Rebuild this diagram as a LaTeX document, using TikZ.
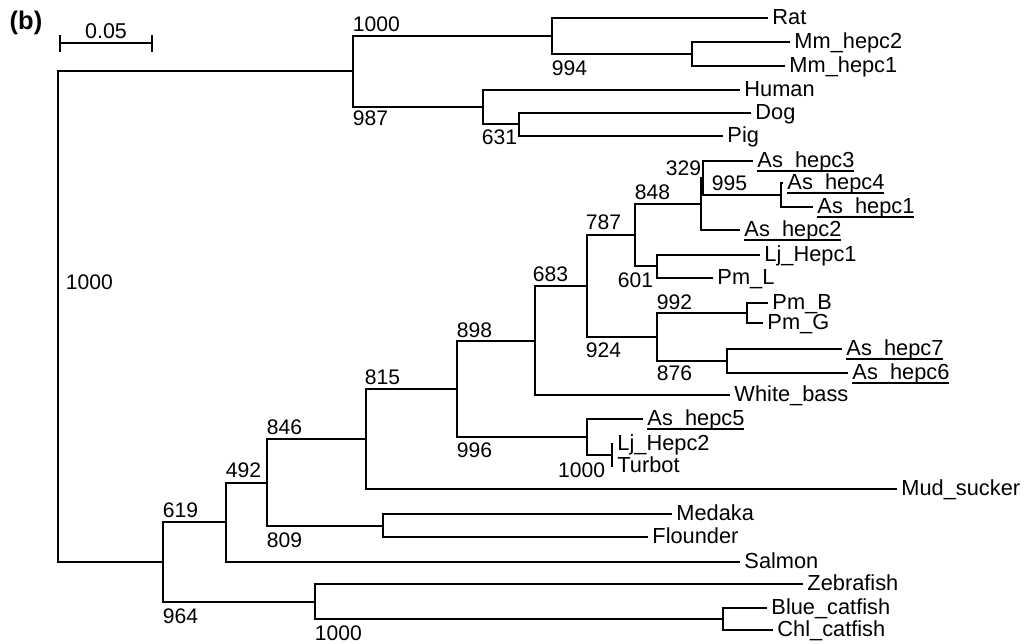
\documentclass[tikz,border=0pt]{standalone}
\usepackage{fontspec}
\setmainfont{Liberation Sans}
\newcommand{\ashepc}[1]{\setbox0\hbox{As\_hepc#1}\rlap{\rule[-2.4pt]{\wd0}{1.1pt}}\box0}

\begin{document}
\begin{tikzpicture}[x=0.02cm, y=-0.02cm, line width=1.1pt,
    leaf/.style={anchor=west, inner xsep=2pt, inner ysep=0pt, text height=0.72em, text depth=0pt, font=\fontsize{12.4}{14}\selectfont},
    num/.style={anchor=west, inner sep=0pt, font=\fontsize{12}{14}\selectfont},
    br/.style={draw, to path={|- (\tikztotarget) \tikztonodes}}]
    \useasboundingbox (0,0) rectangle (1035,644);
    \node[font=\bfseries\fontsize{14.5}{16}\selectfont] (panel) at (26,23) {(b)};
    % scale bar
    \coordinate (sbL) at (60,43);
    \coordinate (sbR) at (152,43);
    \draw (sbL) -- (sbR);
    \draw (sbL) ++(0,-8) -- ++(0,17);
    \draw (sbR) ++(0,-8) -- ++(0,17);
    \node[font=\fontsize{12.2}{14}\selectfont] (sblab) at (106,31) {0.05};
    % internal nodes
    \coordinate (nRoot) at (58,317);
    \coordinate (nMam) at (353,71);
    \coordinate (nRod) at (552,36);
    \coordinate (nMm) at (692,54);
    \coordinate (nHum) at (483,107);
    \coordinate (nDP) at (519,124);
    \coordinate (nFish) at (163,562);
    \coordinate (n492) at (226,522);
    \coordinate (nPerc) at (267,483);
    \coordinate (nMF) at (383,526);
    \coordinate (n815) at (366,439);
    \coordinate (n898) at (457,389);
    \coordinate (n683) at (535,341);
    \coordinate (n787) at (587,286);
    \coordinate (n848) at (635,235);
    \coordinate (nAs) at (701,204);
    \coordinate (n329) at (703,178);
    \coordinate (n995) at (781,195);
    \coordinate (n601) at (657,266);
    \coordinate (n924) at (657,337);
    \coordinate (n992) at (747,313);
    \coordinate (n876) at (727,361);
    \coordinate (n996) at (587,437);
    \coordinate (nLj) at (612,455);
    \coordinate (nZeb) at (315,602);
    \coordinate (nCat) at (723,619);
    % leaves
    \node[leaf] (Rat) at (768,18) {Rat};
    \node[leaf] (Mm2) at (790,42) {Mm\_hepc2};
    \node[leaf] (Mm1) at (785,66) {Mm\_hepc1};
    \node[leaf] (Human) at (740,90) {Human};
    \node[leaf] (Dog) at (751,113) {Dog};
    \node[leaf] (Pig) at (723,136) {Pig};
    \node[leaf] (As3) at (753,161) {\ashepc{3}};
    \node[leaf] (As4) at (783,183) {\ashepc{4}};
    \node[leaf] (As1) at (813,207) {\ashepc{1}};
    \node[leaf] (As2) at (740,230) {\ashepc{2}};
    \node[leaf] (Lj1) at (760,255) {Lj\_Hepc1};
    \node[leaf] (PmL) at (713,278) {Pm\_L};
    \node[leaf] (PmB) at (768,303) {Pm\_B};
    \node[leaf] (PmG) at (763,323) {Pm\_G};
    \node[leaf] (As7) at (842,349) {\ashepc{7}};
    \node[leaf] (As6) at (848,373) {\ashepc{6}};
    \node[leaf] (WBass) at (730,395) {White\_bass};
    \node[leaf] (As5) at (643,419) {\ashepc{5}};
    \node[leaf] (Lj2) at (613,444) {Lj\_Hepc2};
    \node[leaf] (Turbot) at (613,466) {Turbot};
    \node[leaf] (Mud) at (897,489) {Mud\_sucker};
    \node[leaf] (Medaka) at (672,514) {Medaka};
    \node[leaf] (Flounder) at (648,537) {Flounder};
    \node[leaf] (Salmon) at (740,562) {Salmon};
    \node[leaf] (Zebra) at (803,584) {Zebrafish};
    \node[leaf] (BlueC) at (767,608) {Blue\_catfish};
    \node[leaf] (ChlC) at (773,630) {Chl\_catfish};
    % bootstrap values
    \node[num] (b1000r) at (65,282) {1000};
    \node[num] (b1000m) at (352,24) {1000};
    \node[num] (b987) at (352,118) {987};
    \node[num] (b994) at (551,68) {994};
    \node[num] (b631) at (481,137) {631};
    \node[num, anchor=east] (b329) at (702,168) {329};
    \node[num] (b995) at (711,183) {995};
    \node[num] (b848) at (634,192) {848};
    \node[num] (b787) at (585,222) {787};
    \node[num, anchor=east] (b601) at (654,280) {601};
    \node[num] (b683) at (532,274) {683};
    \node[num] (b992) at (656,302) {992};
    \node[num] (b924) at (585,350) {924};
    \node[num] (b876) at (656,373) {876};
    \node[num] (b898) at (456,330) {898};
    \node[num] (b996) at (456,450) {996};
    \node[num] (b815) at (364,377) {815};
    \node[num] (b846) at (266,427) {846};
    \node[num] (b492) at (225,470) {492};
    \node[num] (b619) at (162,510) {619};
    \node[num] (b809) at (266,540) {809};
    \node[num] (b964) at (162,616) {964};
    \node[num] (b1000c) at (314,633) {1000};
    \node[num, anchor=east] (b1000l) at (606,470) {1000};
    % branches
    \path (nRoot) edge[br] (nMam) (nRoot) edge[br] (nFish);
    \path (nMam) edge[br] (nRod) (nMam) edge[br] (nHum);
    \path (nRod) edge[br] (Rat) (nRod) edge[br] (nMm) (nMm) edge[br] (Mm2) (nMm) edge[br] (Mm1);
    \path (nHum) edge[br] (Human) (nHum) edge[br] (nDP) (nDP) edge[br] (Dog) (nDP) edge[br] (Pig);
    \path (nFish) edge[br] (n492) (nFish) edge[br] (nZeb);
    \path (n492) edge[br] (nPerc) (n492) edge[br] (Salmon);
    \path (nPerc) edge[br] (n815) (nPerc) edge[br] (nMF) (nMF) edge[br] (Medaka) (nMF) edge[br] (Flounder);
    \path (n815) edge[br] (n898) (n815) edge[br] (Mud);
    \path (n898) edge[br] (n683) (n898) edge[br] (n996);
    \path (n683) edge[br] (n787) (n683) edge[br] (WBass);
    \path (n787) edge[br] (n848) (n787) edge[br] (n924);
    \path (n848) edge[br] (nAs) (n848) edge[br] (n601);
    \path (nAs) edge[br] (n329) (nAs) edge[br] (As2);
    \path (n329) edge[br] (As3) (n329) edge[br] (n995) (n995) edge[br] (As4) (n995) edge[br] (As1);
    \path (n601) edge[br] (Lj1) (n601) edge[br] (PmL);
    \path (n924) edge[br] (n992) (n924) edge[br] (n876);
    \path (n992) edge[br] (PmB) (n992) edge[br] (PmG) (n876) edge[br] (As7) (n876) edge[br] (As6);
    \path (n996) edge[br] (As5) (n996) edge[br] (nLj) (nLj) edge[br] (Lj2) (nLj) edge[br] (Turbot);
    \path (nZeb) edge[br] (Zebra) (nZeb) edge[br] (nCat) (nCat) edge[br] (BlueC) (nCat) edge[br] (ChlC);
\end{tikzpicture}
\end{document}
